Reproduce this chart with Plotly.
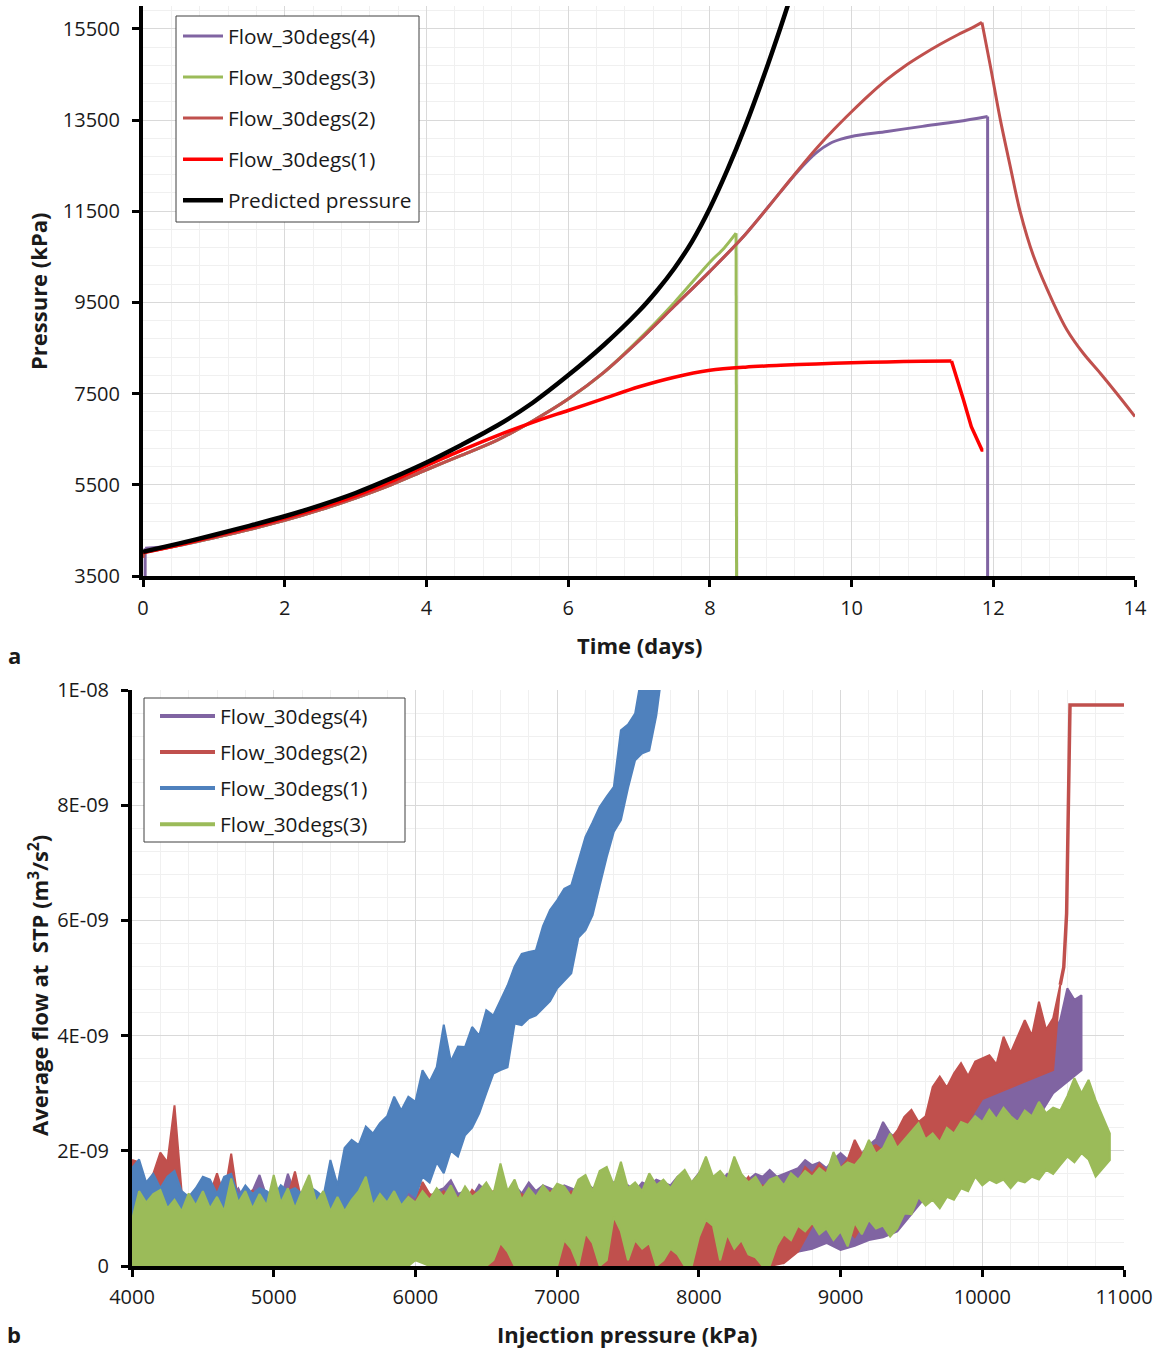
import numpy as np
import plotly.graph_objects as go

# ---------------- panel (a): pressure history ----------------
t_pred = [0, 0.5, 1, 1.5, 2, 2.5, 3, 3.5, 4, 4.5, 5, 5.5, 6, 6.5, 7, 7.25, 7.5, 7.75,
          8, 8.25, 8.5, 8.75, 9, 9.25]
p_pred = [4030, 4210, 4400, 4600, 4810, 5050, 5320, 5640, 5990, 6380, 6800, 7300, 7900,
          8560, 9310, 9750, 10250, 10840, 11565, 12415, 13365, 14415, 15540, 16740]

t_f1 = [0, 0.5, 1, 1.5, 2, 2.5, 3, 3.5, 4, 4.5, 5, 5.5, 6, 6.5, 7, 7.5, 8, 8.5, 9, 9.5,
        10, 10.5, 11, 11.41, 11.5, 11.58, 11.69, 11.84, 11.86]
p_f1 = [4010, 4180, 4370, 4560, 4770, 5000, 5260, 5570, 5920, 6260, 6580, 6870, 7130, 7390,
        7650, 7860, 8010, 8080, 8120, 8150, 8175, 8195, 8210, 8217, 7790, 7361, 6775, 6264, 6264]

t_f2 = [0, 0.02, 0.5, 1, 1.5, 2, 2.5, 3, 3.5, 4, 4.5, 5, 5.5, 6, 6.5, 7, 7.5, 8, 8.5, 9,
        9.25, 9.5, 9.75, 10, 10.25, 10.5, 10.75, 11, 11.25, 11.5, 11.7, 11.84,
        11.96, 12.10, 12.24, 12.38, 12.57, 12.85, 13.04, 13.27, 13.51, 13.74, 14.0]
p_f2 = [3900, 4020, 4170, 4340, 4520, 4720, 4950, 5210, 5500, 5830, 6150, 6480, 6900, 7380,
        7960, 8660, 9420, 10180, 10990, 11930, 12410, 12870, 13290, 13680, 14050, 14390,
        14680, 14930, 15160, 15370, 15520, 15640,
        14673, 13503, 12479, 11485, 10505, 9481, 8897, 8385, 7947, 7508, 6996]

t_f3 = [0, 0.5, 1, 1.5, 2, 2.5, 3, 3.5, 4, 4.5, 5, 5.5, 6, 6.5, 7, 7.5, 8, 8.2, 8.37, 8.38]
p_f3 = [4020, 4170, 4340, 4520, 4720, 4950, 5210, 5500, 5830, 6150, 6480, 6900, 7380, 7960,
        8690, 9500, 10380, 10690, 11018, 0]

t_f4 = [0.03, 0.03, 0.5, 1, 1.5, 2, 2.5, 3, 3.5, 4, 4.5, 5, 5.5, 6, 6.5, 7, 7.5, 8, 8.5, 9,
        9.25, 9.5, 9.7, 9.85, 10, 10.5, 11, 11.5, 11.92, 11.92]
p_f4 = [0, 4110, 4170, 4340, 4520, 4720, 4950, 5210, 5500, 5830, 6150, 6480, 6900, 7380,
        7960, 8660, 9420, 10180, 10990, 11930, 12390, 12780, 12990, 13080, 13140, 13250,
        13360, 13465, 13577, 0]

# ---------------- panel (b): flow vs injection pressure ----------------
# Noisy records are stored as upper / lower envelopes (units of 1e-9 m3/s2),
# sampled from 4000 kPa every STEP kPa.
P_START = 4000

green_hi = [  # step 50
    0.80, 1.30, 1.10, 1.25, 1.32, 1.00, 1.15, 0.95, 1.26, 1.05,
    1.30, 1.00, 1.20, 0.95, 1.52, 1.10, 1.30, 1.00, 1.25, 1.05,
    1.58, 1.10, 1.35, 1.00, 1.30, 1.58, 1.10, 1.30, 0.95, 1.20,
    0.95, 1.15, 1.30, 1.55, 1.05, 1.25, 1.10, 1.30, 1.05, 1.20,
    1.10, 1.30, 1.15, 1.35, 1.20, 1.40, 1.15, 1.38, 1.20, 1.30,
    1.45, 1.25, 1.78, 1.30, 1.50, 1.15, 1.35, 1.20, 1.40, 1.25,
    1.43, 1.38, 1.20, 1.50, 1.58, 1.30, 1.65, 1.72, 1.40, 1.81,
    1.35, 1.45, 1.30, 1.61, 1.40, 1.50, 1.35, 1.55, 1.67, 1.45,
    1.60, 1.90, 1.55, 1.65, 1.50, 1.90, 1.60, 1.45, 1.55, 1.35,
    1.50, 1.55, 1.40, 1.61, 1.50, 1.65, 1.55, 1.70, 1.60, 1.98,
    1.70, 1.80, 1.75, 1.90, 2.19, 1.95, 2.05, 2.30, 2.05, 2.20,
    2.35, 2.48, 2.20, 2.30, 2.15, 2.40, 2.30, 2.50, 2.45, 2.60,
    2.50, 2.71, 2.55, 2.75, 2.60, 2.50, 2.70, 2.60, 2.85, 2.65,
    2.75, 2.70, 2.95, 3.26, 3.00, 3.23, 2.88, 2.60, 2.30]
green_lo = [  # step 50
    0, 0, 0, 0, 0, 0, 0, 0, 0, 0,
    0, 0, 0, 0, 0, 0, 0, 0, 0, 0,
    0, 0, 0, 0, 0, 0, 0, 0, 0, 0,
    0, 0, 0, 0, 0, 0, 0, 0, 0, 0,
    0.10, 0.05, 0, 0, 0, 0, 0, 0, 0, 0,
    0, 0.10, 0.40, 0.25, 0, 0, 0, 0, 0, 0,
    0, 0.45, 0.30, 0, 0.57, 0.40, 0, 0.10, 0.86, 0.60,
    0.10, 0.45, 0.30, 0.40, 0, 0.10, 0.30, 0.20, 0, 0,
    0.50, 0.80, 0.70, 0.10, 0.55, 0.30, 0.45, 0.20, 0.15, 0,
    0, 0.35, 0.55, 0.45, 0.70, 0.60, 0.75, 0.55, 0.65, 0.45,
    0.60, 0.34, 0.75, 0.55, 0.80, 0.65, 0.70, 0.51, 0.65, 0.91,
    0.90, 1.20, 1.05, 1.15, 1.00, 1.20, 1.15, 1.35, 1.30, 1.55,
    1.40, 1.50, 1.44, 1.50, 1.35, 1.49, 1.45, 1.55, 1.50, 1.67,
    1.60, 1.75, 1.90, 1.80, 1.96, 1.85, 1.55, 1.70, 1.84]

blue_hi = [  # step 50
    1.70, 1.85, 1.45, 1.60, 1.35, 1.55, 1.65, 1.30, 1.20, 1.35,
    1.55, 1.50, 1.25, 1.55, 1.60, 1.20, 1.40, 1.25, 1.35, 1.30,
    1.20, 1.40, 1.30, 1.35, 1.25, 1.38, 1.30, 1.20, 1.84, 1.40,
    2.05, 2.19, 2.10, 2.42, 2.30, 2.48, 2.60, 2.94, 2.70, 2.94,
    2.85, 3.40, 3.20, 3.45, 4.19, 3.55, 3.81, 3.80, 4.15, 4.00,
    4.44, 4.35, 4.61, 4.87, 5.20, 5.42, 5.45, 5.48, 5.90, 6.18,
    6.35, 6.55, 6.61, 7.02, 7.45, 7.70, 7.97, 8.15, 8.32, 9.30,
    9.40, 9.59, 10.30, 10.50, 10.50, 10.50]
blue_lo = [  # step 50
    0.50, 0.60, 0.45, 0.55, 0.60, 0.50, 0.55, 0.45, 0.60, 0.50,
    0.55, 0.45, 0.50, 0.60, 0.50, 0.45, 0.55, 0.50, 0.45, 0.60,
    0.50, 0.55, 0.50, 0.45, 0.55, 0.60, 0.50, 0.55, 0.50, 0.60,
    0.55, 0.70, 0.65, 0.80, 0.75, 0.95, 0.90, 1.15, 1.05, 1.30,
    1.20, 1.55, 1.45, 1.80, 1.61, 2.00, 1.90, 2.27, 2.40, 2.65,
    3.00, 3.34, 3.40, 3.45, 4.21, 4.18, 4.30, 4.35, 4.47, 4.60,
    4.82, 4.95, 5.08, 5.70, 5.83, 6.09, 6.60, 7.10, 7.54, 7.74,
    8.30, 8.78, 8.90, 8.95, 9.56, 10.50]

red_hi = [  # step 50
    1.84, 1.80, 1.40, 1.60, 1.97, 1.80, 2.79, 1.30, 1.10, 1.20,
    1.00, 1.25, 1.61, 1.20, 1.95, 1.10, 1.15, 1.32, 1.00, 1.15,
    1.10, 1.30, 1.20, 1.64, 1.10, 1.20, 1.05, 1.26, 1.10, 1.00,
    1.15, 0.95, 1.09, 1.00, 0.95, 1.10, 1.00, 1.15, 1.05, 1.20,
    1.10, 1.46, 1.25, 1.20, 1.30, 1.15, 1.20, 1.10, 1.32, 1.20,
    1.25, 1.30, 1.15, 1.20, 1.10, 1.25, 1.15, 1.20, 1.10, 1.30,
    1.20, 1.15, 1.30, 1.20, 1.25, 1.10, 1.26, 1.20, 1.15, 1.30,
    1.20, 1.10, 1.25, 1.15, 1.20, 1.30, 1.20, 1.25, 1.15, 1.30,
    1.20, 1.35, 1.25, 1.40, 1.30, 1.35, 1.40, 1.55, 1.30, 1.40,
    1.35, 1.45, 1.40, 1.50, 1.45, 1.72, 1.60, 1.78, 1.65, 1.80,
    1.70, 1.85, 2.19, 1.95, 2.05, 2.10, 2.00, 2.20, 2.35, 2.59,
    2.71, 2.50, 2.60, 3.11, 3.29, 3.10, 3.34, 3.52, 3.30, 3.55,
    3.60, 3.66, 3.50, 3.98, 3.70, 4.00, 4.27, 4.00, 4.59, 4.10,
    4.30, 4.88]
red_lo = [  # step 100
    0.30, 0.40, 0.35, 0.30, 0.40, 0.35, 0.30, 0.40, 0.35, 0.30,
    0.35, 0.30, 0.40, 0.35, 0.30, 0.35, 0.30, 0.25, 0.20, 0.15,
    0.10, 0.20, 0.10, 0, 0.15, 0, 0, 0, 0, 0,
    0, 0, 0, 0, 0, 0, 0, 0, 0, 0,
    0, 0, 0, 0, 0, 0, 0.05, 0.25, 0.70, 0.80,
    0.75, 0.50, 0.90, 1.00, 1.10, 1.20, 1.60, 2.10, 2.30, 2.50,
    2.90, 3.00, 3.10, 3.20, 3.30, 3.40]
# breakthrough jump and plateau of run (2)
red_tail_p = [10550, 10575, 10595, 10607, 10619, 11000]
red_tail_q = [4.88, 5.19, 6.12, 8.14, 9.74, 9.74]

purple_hi = [  # step 50
    1.20, 1.40, 1.10, 1.30, 1.20, 1.35, 1.10, 1.25, 1.15, 1.30,
    1.20, 1.45, 1.15, 1.30, 1.20, 1.35, 1.10, 1.30, 1.58, 1.20,
    1.30, 1.15, 1.60, 1.25, 1.10, 1.30, 1.15, 1.25, 1.10, 1.20,
    1.05, 1.20, 1.10, 1.25, 1.15, 1.30, 1.20, 1.35, 1.20, 1.30,
    1.25, 1.35, 1.20, 1.30, 1.35, 1.49, 1.25, 1.30, 1.20, 1.41,
    1.30, 1.20, 1.35, 1.30, 1.40, 1.26, 1.45, 1.30, 1.40, 1.35,
    1.30, 1.40, 1.35, 1.30, 1.45, 1.35, 1.40, 1.30, 1.45, 1.35,
    1.40, 1.30, 1.45, 1.40, 1.50, 1.45, 1.40, 1.55, 1.50, 1.45,
    1.61, 1.50, 1.55, 1.45, 1.60, 1.50, 1.55, 1.50, 1.60, 1.55,
    1.67, 1.55, 1.60, 1.65, 1.70, 1.84, 1.75, 1.80, 1.70, 1.85,
    1.96, 1.85, 2.00, 1.95, 2.10, 2.20, 2.50, 2.30, 2.20, 2.40,
    2.45, 2.30, 2.40, 2.35, 2.50, 2.40, 2.55, 2.48, 2.70, 2.80,
    3.00, 3.10, 3.20, 3.46, 3.35, 3.30, 3.40, 3.50, 3.60, 3.80,
    4.04, 4.27, 4.82, 4.62, 4.70]
purple_lo = [  # step 100
    0.30, 0.30, 0.30, 0.30, 0.30, 0.30, 0.30, 0.30, 0.30, 0.30,
    0.30, 0.30, 0.30, 0.30, 0.30, 0.30, 0.30, 0.30, 0.30, 0.30,
    0.30, 0.30, 0.30, 0.30, 0.30, 0.30, 0.30, 0.30, 0.30, 0.30,
    0.30, 0.30, 0.30, 0.30, 0.30, 0.30, 0.30, 0.30, 0.30, 0.30,
    0.30, 0.30, 0.30, 0.30, 0.30, 0.30, 0.40, 0.25, 0.30, 0.40,
    0.28, 0.35, 0.45, 0.50, 0.60, 0.90, 1.20, 1.40, 1.50, 1.80,
    2.00, 2.20, 2.40, 2.50, 2.60, 3.00, 3.20, 3.40]

# ---------------- styling ----------------
C_PURPLE = "#8064A2"
C_GREEN = "#9BBB59"
C_BROWN = "#C0504D"
C_RED = "#FF0000"
C_BLUE = "#4F81BD"
FONT = "Open Sans"
TXT = "#1a1a1a"
W, H = 1157, 1351


def px_x(v):
    return min(max(v / W, 0.0), 1.0)


def px_y(v):
    return min(max(1 - v / H, 0.0), 1.0)


fig = go.Figure()


def add_series(name, t, p, col, wd, pieces):
    """Draw one pressure record; smooth stretches as splines, shut-in drops straight."""
    for k, (i0, i1, shape) in enumerate(pieces):
        fig.add_trace(go.Scatter(
            x=t[i0:i1 + 1], y=p[i0:i1 + 1], mode="lines", name=name,
            legendgroup="a" + name, showlegend=(k == 0),
            line=dict(color=col, width=wd, shape=shape, smoothing=0.9),
            xaxis="x", yaxis="y", legend="legend"))


n4, n3, n2, n1, n0 = len(t_f4), len(t_f3), len(t_f2), len(t_f1), len(t_pred)
peak2 = int(np.argmax(p_f2))
stop1 = t_f1.index(11.41)
add_series("Flow_30degs(4)", t_f4, p_f4, C_PURPLE, 3,
           [(0, 1, "linear"), (1, n4 - 2, "spline"), (n4 - 2, n4 - 1, "linear")])
add_series("Flow_30degs(3)", t_f3, p_f3, C_GREEN, 3,
           [(0, n3 - 2, "spline"), (n3 - 2, n3 - 1, "linear")])
add_series("Flow_30degs(2)", t_f2, p_f2, C_BROWN, 3,
           [(0, 1, "linear"), (1, peak2, "spline"), (peak2, n2 - 1, "spline")])
add_series("Flow_30degs(1)", t_f1, p_f1, C_RED, 3.5,
           [(0, stop1, "spline"), (stop1, n1 - 1, "linear")])
add_series("Predicted pressure", t_pred, p_pred, "#000000", 4.5,
           [(0, n0 - 1, "spline")])


def band(hi, step_hi, lo, step_lo):
    hi = np.asarray(hi, dtype=float)
    lo = np.asarray(lo, dtype=float)
    x_hi = P_START + step_hi * np.arange(len(hi))
    x_lo = P_START + step_lo * np.arange(len(lo))
    xs = np.concatenate([x_hi, x_lo[::-1]])
    ys = np.concatenate([hi, lo[::-1]]) * 1e-9
    return xs, ys


bands = [
    (C_PURPLE, band(purple_hi, 50, purple_lo, 100)),
    (C_BROWN, band(red_hi, 50, red_lo, 100)),
    (C_BLUE, band(blue_hi, 50, blue_lo, 50)),
    (C_GREEN, band(green_hi, 50, green_lo, 50)),
]
for col, (xs, ys) in bands:
    fig.add_trace(go.Scatter(
        x=xs, y=ys, mode="lines", fill="toself", fillcolor=col,
        line=dict(color=col, width=2), showlegend=False, hoverinfo="skip",
        xaxis="x2", yaxis="y2"))
    if col == C_BROWN:
        fig.add_trace(go.Scatter(
            x=red_tail_p, y=np.asarray(red_tail_q) * 1e-9, mode="lines",
            line=dict(color=C_BROWN, width=3.5), showlegend=False,
            hoverinfo="skip", xaxis="x2", yaxis="y2"))

# legend entries for panel (b)
for name, col in [("Flow_30degs(4)", C_PURPLE), ("Flow_30degs(2)", C_BROWN),
                  ("Flow_30degs(1)", C_BLUE), ("Flow_30degs(3)", C_GREEN)]:
    fig.add_trace(go.Scatter(
        x=[None], y=[None], mode="lines", name=name, legendgroup="b" + name,
        line=dict(color=col, width=4), xaxis="x2", yaxis="y2", legend="legend2"))

tickfont = dict(family=FONT, size=20, color=TXT)
axis_common = dict(
    showline=True, linecolor="black", linewidth=4, ticks="outside", ticklen=7,
    tickwidth=3, tickcolor="black", showgrid=True, gridcolor="#d9d9d9", gridwidth=1,
    zeroline=False, tickfont=tickfont, automargin=False)

legend_font = dict(family=FONT, size=20.8, color=TXT)
fig.update_layout(
    width=W, height=H,
    margin=dict(l=0, r=0, t=0, b=0, pad=0, autoexpand=False),
    paper_bgcolor="white", plot_bgcolor="white",
    xaxis=dict(domain=[px_x(143), px_x(1135)], range=[0, 14], tick0=0, dtick=2,
               anchor="y", ticklabelstandoff=4,
               minor=dict(dtick=0.4, tick0=0, showgrid=True, gridcolor="#f0f0f0",
                          ticks=""),
               **axis_common),
    yaxis=dict(domain=[px_y(576), px_y(6)], range=[3500, 16000], tick0=3500, dtick=2000,
               anchor="x", tickformat="d", ticklabelstandoff=8,
               minor=dict(dtick=400, tick0=3500, showgrid=True, gridcolor="#f0f0f0",
                          ticks=""),
               **axis_common),
    xaxis2=dict(domain=[px_x(132), px_x(1124)], range=[4000, 11000], tick0=4000,
                dtick=1000, anchor="y2", tickformat="d", ticklabelstandoff=3,
                minor=dict(dtick=200, tick0=4000, showgrid=True, gridcolor="#f0f0f0",
                           ticks=""),
                **axis_common),
    yaxis2=dict(domain=[px_y(1266), px_y(690)], range=[0, 1e-8], anchor="x2",
                tickvals=[0, 2e-9, 4e-9, 6e-9, 8e-9, 1e-8],
                ticktext=["0", "2E-09", "4E-09", "6E-09", "8E-09", "1E-08"],
                ticklabelstandoff=8,
                minor=dict(dtick=4e-10, tick0=0, showgrid=True, gridcolor="#f0f0f0",
                           ticks=""),
                **axis_common),
    legend=dict(x=px_x(178), y=px_y(16), xanchor="left", yanchor="top",
                bgcolor="rgba(0,0,0,0)", borderwidth=0, font=legend_font,
                traceorder="grouped", tracegroupgap=11, itemwidth=40),
    legend2=dict(x=px_x(155), y=px_y(696), xanchor="left", yanchor="top",
                 bgcolor="rgba(0,0,0,0)", borderwidth=0, font=legend_font,
                 traceorder="grouped", tracegroupgap=6, itemwidth=55),
    showlegend=True,
)

# legend frames
for x0, x1, y0, y1 in [(176, 419, 16, 222), (144, 405, 698, 842)]:
    fig.add_shape(type="rect", xref="paper", yref="paper", layer="above",
                  x0=px_x(x0), x1=px_x(x1), y0=px_y(y1), y1=px_y(y0),
                  fillcolor="white", line=dict(color="#404040", width=1))

title_font = dict(family=FONT, size=22, color=TXT)
notes = [
    dict(text="<b>Pressure (kPa)</b>", x=px_x(38), y=px_y(291), textangle=-90),
    dict(text="<b>Time (days)</b>", x=px_x(639), y=px_y(645), textangle=0),
    dict(text="<b>Injection pressure (kPa)</b>", x=px_x(627), y=px_y(1334), textangle=0),
    dict(text="<b>Average flow at  STP (m<sup>3</sup>/s<sup>2</sup>)</b>",
         x=px_x(38), y=px_y(986), textangle=-90),
]
for n in notes:
    fig.add_annotation(xref="paper", yref="paper", showarrow=False,
                       xanchor="center", yanchor="middle", font=title_font, **n)
for lab, yy in [("a", 655), ("b", 1334)]:
    fig.add_annotation(text=f"<b>{lab}</b>", xref="paper", yref="paper",
                       x=px_x(14), y=px_y(yy), showarrow=False, xanchor="center",
                       yanchor="middle", font=dict(family=FONT, size=22, color=TXT))

# the page holds only the figure: no body margin, no scrollbars
fig.write_html(
    "out.html",
    post_script="document.body.style.margin='0';document.body.style.overflow='hidden';",
)
